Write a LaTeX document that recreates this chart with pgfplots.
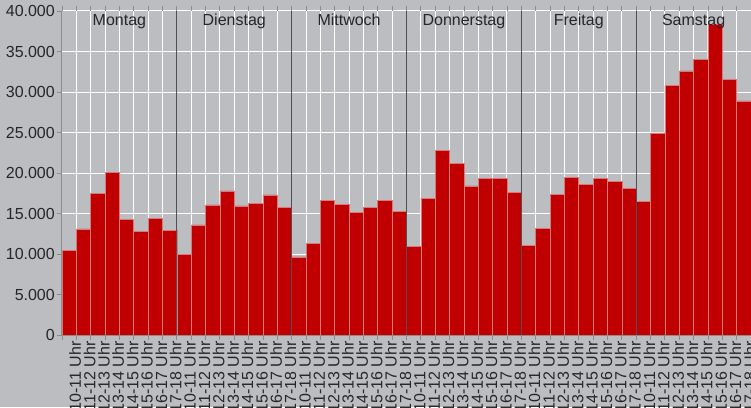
\documentclass[border=0pt]{standalone}
\usepackage{pgfplots}
\pgfplotsset{compat=1.18}
\usepackage{fontspec}
\setmainfont{Liberation Sans}

\definecolor{bggray}{HTML}{BCBDC1}
\definecolor{barred}{HTML}{C00000}
\definecolor{baredge}{HTML}{D87A7A}
\definecolor{txt}{HTML}{262626}
\definecolor{sepline}{HTML}{505050}
\definecolor{axline}{HTML}{8C8C8C}

% Besucher je Stunde, Mo-Sa (x = Position der Balkenmitte)
\pgfplotstableread{
x y
0.5 10450
1.5 13100
2.5 17500
3.5 20100
4.5 14300
5.5 12800
6.5 14400
7.5 12900
8.5 10000
9.5 13600
10.5 16050
11.5 17800
12.5 15950
13.5 16200
14.5 17300
15.5 15800
16.5 9650
17.5 11300
18.5 16600
19.5 16100
20.5 15100
21.5 15800
22.5 16600
23.5 15250
24.5 10900
25.5 16900
26.5 22800
27.5 21150
28.5 18400
29.5 19300
30.5 19350
31.5 17600
32.5 11100
33.5 13200
34.5 17400
35.5 19500
36.5 18600
37.5 19300
38.5 19000
39.5 18100
40.5 16450
41.5 24950
42.5 30800
43.5 32600
44.5 34000
45.5 38300
46.5 31600
47.5 28900
}\besucher

\begin{document}
\begin{tikzpicture}
\fill[bggray] (-62pt,-72pt) rectangle (689pt,335pt);
\useasboundingbox (-62pt,-72pt) rectangle (689pt,335pt);
\clip (-62pt,-72pt) rectangle (689pt,335pt);
\begin{axis}[
    at={(0pt,0pt)}, anchor=south west,
    scale only axis,
    width=689pt, height=324pt,
    xmin=0, xmax=48,
    ymin=0, ymax=40000,
    axis background/.style={fill=bggray},
    font=\fontsize{16}{18}\selectfont,
    ybar, bar width=1, bar shift=0pt,
    xtick={0.5,1.5,...,47.5},
    xticklabels={10-11 Uhr,11-12 Uhr,12-13 Uhr,13-14 Uhr,14-15 Uhr,15-16 Uhr,16-17 Uhr,17-18 Uhr,
                 10-11 Uhr,11-12 Uhr,12-13 Uhr,13-14 Uhr,14-15 Uhr,15-16 Uhr,16-17 Uhr,17-18 Uhr,
                 10-11 Uhr,11-12 Uhr,12-13 Uhr,13-14 Uhr,14-15 Uhr,15-16 Uhr,16-17 Uhr,17-18 Uhr,
                 10-11 Uhr,11-12 Uhr,12-13 Uhr,13-14 Uhr,14-15 Uhr,15-16 Uhr,16-17 Uhr,17-18 Uhr,
                 10-11 Uhr,11-12 Uhr,12-13 Uhr,13-14 Uhr,14-15 Uhr,15-16 Uhr,16-17 Uhr,17-18 Uhr,
                 10-11 Uhr,11-12 Uhr,12-13 Uhr,13-14 Uhr,14-15 Uhr,15-16 Uhr,16-17 Uhr,17-18 Uhr},
    major x tick style={draw=none},
    minor xtick={0,1,...,48},
    minor x tick style={draw=axline, line width=0.8pt},
    xminorgrids=true,
    minor x grid style={white, line width=1pt},
    xticklabel style={rotate=90, anchor=east, text=txt, inner sep=1pt, yshift=-6pt},
    ytick={0,5000,...,40000},
    ymajorgrids=true,
    major y grid style={white, line width=1pt},
    y tick style={draw=axline, line width=0.8pt},
    tick align=outside,
    major tick length=5pt, minor tick length=5pt,
    yticklabel style={text=txt, inner sep=1pt, xshift=-1pt,
        /pgf/number format/fixed, /pgf/number format/1000 sep={.},
        /pgf/number format/assume math mode=true},
    scaled y ticks=false,
    axis line style={draw=none},
    clip=false,
]
\addplot[fill=barred, draw=baredge, line width=0.6pt] table[x=x, y=y] {\besucher};
\draw[axline, line width=1pt] (axis cs:0,0) -- (axis cs:0,40000);
\draw[axline, line width=0.8pt] (axis cs:0,0) -- (axis cs:48,0);
\draw[sepline, line width=1pt] (axis cs:8,0) -- (axis cs:8,40000);
\draw[sepline, line width=1pt] (axis cs:16,0) -- (axis cs:16,40000);
\draw[sepline, line width=1pt] (axis cs:24,0) -- (axis cs:24,40000);
\draw[sepline, line width=1pt] (axis cs:32,0) -- (axis cs:32,40000);
\draw[sepline, line width=1pt] (axis cs:40,0) -- (axis cs:40,40000);
\node[anchor=base, text=txt] at (axis cs:4,38270) {Montag};
\node[anchor=base, text=txt] at (axis cs:12,38270) {Dienstag};
\node[anchor=base, text=txt] at (axis cs:20,38270) {Mittwoch};
\node[anchor=base, text=txt] at (axis cs:28,38270) {Donnerstag};
\node[anchor=base, text=txt] at (axis cs:36,38270) {Freitag};
\node[anchor=base, text=txt] at (axis cs:44,38270) {Samstag};
\end{axis}
\end{tikzpicture}
\end{document}
